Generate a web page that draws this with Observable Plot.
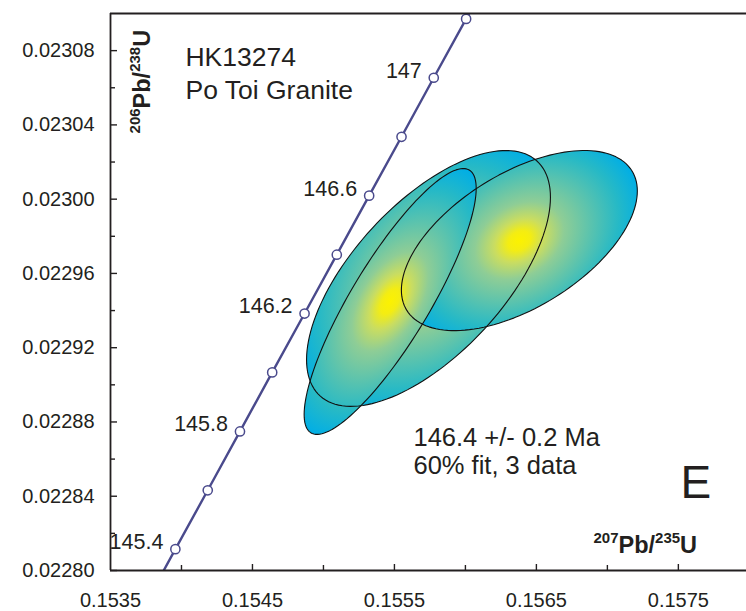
<!DOCTYPE html>
<html><head><meta charset="utf-8">
<script src="https://cdn.jsdelivr.net/npm/d3@7"></script>
<script src="https://cdn.jsdelivr.net/npm/@observablehq/plot@0.6"></script>
<style>
html,body{margin:0;padding:0;background:#fff;overflow:hidden}
#chart svg{display:block}
</style></head><body><div id="chart"></div>
<script>
// ---- Concordia (age in Ma, 207Pb/235U, 206Pb/238U) ----
const concAges = [145.2, 145.4, 145.6, 145.8, 146.0, 146.2, 146.4, 146.6, 146.8, 147.0, 147.2, 147.4];
const conc207 = [0.153730, 0.153957, 0.154185, 0.154412, 0.154639, 0.154867, 0.155094, 0.155322, 0.155550, 0.155777, 0.156005, 0.156233];
const conc206 = [0.0227797, 0.0228115, 0.0228432, 0.0228749, 0.0229067, 0.0229384, 0.0229701, 0.0230019, 0.0230336, 0.0230654, 0.0230971, 0.0231288];
const markerAges = [145.4, 145.6, 145.8, 146.0, 146.2, 146.4, 146.6, 146.8, 147.0, 147.2];
const labelAges = [145.4, 145.8, 146.2, 146.6, 147.0];
const labelText = ["145.4", "145.8", "146.2", "146.6", "147"];

// ---- Data ellipses (drawing order) ----
const ellId = ["B", "C", "A"];
const ellX = [0.15574, 0.15638, 0.15547];
const ellSX = [0.000859, 0.000831, 0.000606];
const ellY = [0.0229573, 0.0229777, 0.0229449];
const ellSY = [0.0000689, 0.0000485, 0.0000716];
const ellRho = [0.635, 0.55, 0.85];

// ---- Axes ----
const xDomain = [0.1535, 0.15798];
const yDomain = [0.0228, 0.0231];
const xTickVals = [0.1535, 0.1545, 0.1555, 0.1565, 0.1575];
const xMajorTicks = [0.1545, 0.1555, 0.1565, 0.1575];
const xMinorTicks = [0.154, 0.155, 0.156, 0.157];
const yTickVals = [0.0228, 0.02284, 0.02288, 0.02292, 0.02296, 0.023, 0.02304, 0.02308];
const yMinorTicks = [0.02282, 0.02286, 0.0229, 0.02294, 0.02298, 0.02302, 0.02306];

// ---- Annotations ----
const titleLines = ["HK13274", "Po Toi Granite"];
const titleX = [0.154028, 0.154028];
const titleY = [0.0230715, 0.0230542];
const resultLines = ["146.4 +/- 0.2 Ma", "60% fit, 3 data"];
const resultX = [0.155634, 0.155634];
const resultY = [0.0228668, 0.0228522];
const panelLetter = ["E"];
const panelX = [0.157515];
const panelY = [0.0228388];
const xLabel = ["207Pb/235U"];
const xLabelPos = [0.156902, 0.0228092];
const yLabel = ["206Pb/238U"];
const yLabelPos = [0.15378, 0.0230354];

const W = 746, H = 611, mL = 110, mR = 0, mT = 13, mB = 41;
const ink = "#231f20";
const concColor = "#4a4a8c";
const xPerPx = (xDomain[1] - xDomain[0]) / (W - mL - mR);
const yPerPx = (yDomain[1] - yDomain[0]) / (H - mT - mB);

const concordia = concAges.map((a, i) => ({age: a, x: conc207[i], y: conc206[i]}));
const markers = concordia.filter(d => markerAges.some(a => Math.abs(a - d.age) < 1e-6));
const labels = labelAges.map((a, i) => {
  const d = concordia.find(c => Math.abs(c.age - a) < 1e-6);
  return {x: d.x, y: d.y, text: labelText[i]};
});

function ellipsePts(i) {
  const pts = [];
  const r = ellRho[i], s = Math.sqrt(1 - r * r);
  for (let k = 0; k < 144; k++) {
    const t = k / 144 * 2 * Math.PI;
    pts.push({x: ellX[i] + ellSX[i] * Math.cos(t), y: ellY[i] + ellSY[i] * (r * Math.cos(t) + s * Math.sin(t))});
  }
  return pts;
}
const ellipses = ellId.map((id, i) => ellipsePts(i));

const marks = [];
ellipses.forEach((pts, i) => {
  marks.push(Plot.line(pts, {x: "x", y: "y", curve: "linear-closed", fill: `url(#grad${ellId[i]})`, stroke: "none"}));
});
ellipses.forEach((pts) => {
  marks.push(Plot.line(pts, {x: "x", y: "y", curve: "linear-closed", fill: "none", stroke: "#111", strokeWidth: 1.1}));
});
marks.push(
  Plot.line(concordia, {x: "x", y: "y", stroke: concColor, strokeWidth: 2.4, clip: true}),
  Plot.dot(markers, {x: "x", y: "y", r: 4.6, fill: "white", stroke: concColor, strokeWidth: 1.5}),
  Plot.text(labels, {x: "x", y: "y", text: "text", textAnchor: "end", dx: -12, dy: -7, fontSize: 21.5, fill: ink}),
  // frame
  Plot.ruleX([xDomain[0]], {stroke: ink, strokeWidth: 1.8}),
  Plot.ruleY([yDomain[0], yDomain[1]], {stroke: ink, strokeWidth: 1.8}),
  // inward ticks
  Plot.ruleY(yTickVals, {y: d => d, x1: () => xDomain[0], x2: () => xDomain[0] + 7 * xPerPx, stroke: ink, strokeWidth: 1.4}),
  Plot.ruleY(yMinorTicks, {y: d => d, x1: () => xDomain[0], x2: () => xDomain[0] + 5 * xPerPx, stroke: ink, strokeWidth: 1.4}),
  Plot.ruleX(xMajorTicks, {x: d => d, y1: () => yDomain[0], y2: () => yDomain[0] + 6 * yPerPx, stroke: ink, strokeWidth: 1.4}),
  Plot.ruleX(xMinorTicks, {x: d => d, y1: () => yDomain[0], y2: () => yDomain[0] + 5 * yPerPx, stroke: ink, strokeWidth: 1.4}),
  Plot.axisY({ticks: yTickVals, tickSize: 0, tickPadding: 16, tickFormat: d3.format(".5f"), fontSize: 20, fill: ink, label: null}),
  Plot.axisX({ticks: xTickVals, tickSize: 0, tickPadding: 22, tickFormat: d3.format(".4f"), fontSize: 20, fill: ink, label: null}),
  Plot.text(titleLines, {x: (d, i) => titleX[i], y: (d, i) => titleY[i], text: d => d, textAnchor: "start", lineAnchor: "bottom", fontSize: 26.5, fill: ink}),
  Plot.text(resultLines, {x: (d, i) => resultX[i], y: (d, i) => resultY[i], text: d => d, textAnchor: "start", lineAnchor: "bottom", fontSize: 25.5, fill: ink}),
  Plot.text(panelLetter, {x: (d, i) => panelX[i], y: (d, i) => panelY[i], text: d => d, textAnchor: "start", lineAnchor: "bottom", fontSize: 46, fill: ink}),
  Plot.text(xLabel, {x: () => xLabelPos[0], y: () => xLabelPos[1], text: d => d, textAnchor: "start", lineAnchor: "bottom", fill: ink, fontWeight: "bold"}),
  Plot.text(yLabel, {x: () => yLabelPos[0], y: () => yLabelPos[1], text: d => d, textAnchor: "start", lineAnchor: "bottom", rotate: -90, fill: ink, fontWeight: "bold"})
);

const plot = Plot.plot({
  width: W, height: H,
  marginLeft: mL, marginRight: mR, marginTop: mT, marginBottom: mB,
  x: {domain: xDomain},
  y: {domain: yDomain},
  style: {fontFamily: "'Liberation Sans', Arial, Helvetica, sans-serif", background: "white", color: ink},
  marks
});

// gradients aligned with each ellipse's principal axes (minor axis widened)
const svgNS = "http://www.w3.org/2000/svg";
const xs = plot.scale("x"), ys = plot.scale("y");
const defs = document.createElementNS(svgNS, "defs");
const stops = [[0, "#fcf200"], [0.09, "#f4ed12"], [0.2, "#cadd60"], [0.36, "#8ecd96"], [0.58, "#5ac3ae"], [0.8, "#26b9c6"], [1, "#00aee6"]];
ellId.forEach((id, i) => {
  const cx = xs.apply(ellX[i]), cy = ys.apply(ellY[i]);
  const sxp = xs.apply(ellX[i] + ellSX[i]) - cx;
  const syp = cy - ys.apply(ellY[i] + ellSY[i]);
  const r = ellRho[i];
  const sxx = sxp * sxp, syy = syp * syp, sxy = -r * sxp * syp;
  const m = (sxx + syy) / 2, dd = Math.sqrt(((sxx - syy) / 2) ** 2 + sxy * sxy);
  const a = Math.sqrt(m + dd), b = Math.sqrt(Math.max(m - dd, 1e-9));
  const theta = 0.5 * Math.atan2(2 * sxy, sxx - syy) * 180 / Math.PI;
  const bw = Math.pow(a, 0.55) * Math.pow(b, 0.45);
  const g = document.createElementNS(svgNS, "radialGradient");
  g.setAttribute("id", "grad" + id);
  g.setAttribute("gradientUnits", "userSpaceOnUse");
  g.setAttribute("cx", 0); g.setAttribute("cy", 0); g.setAttribute("r", 1);
  g.setAttribute("gradientTransform", `translate(${cx} ${cy}) rotate(${theta}) scale(${a} ${bw})`);
  for (const [o, c] of stops) {
    const s = document.createElementNS(svgNS, "stop");
    s.setAttribute("offset", o); s.setAttribute("stop-color", c);
    g.appendChild(s);
  }
  defs.appendChild(g);
});
plot.insertBefore(defs, plot.firstChild);

// superscripts in the axis labels
function richLabel(el, parts) {
  el.textContent = "";
  let up = false;
  for (const [s, sup] of parts) {
    const t = document.createElementNS(svgNS, "tspan");
    t.textContent = s;
    t.setAttribute("font-size", sup ? 15 : 23.5);
    if (sup && !up) { t.setAttribute("dy", -10); up = true; }
    else if (!sup && up) { t.setAttribute("dy", 10); up = false; }
    el.appendChild(t);
  }
}
plot.querySelectorAll("text").forEach(el => {
  if (el.textContent === xLabel[0]) richLabel(el, [["207", true], ["Pb/", false], ["235", true], ["U", false]]);
  if (el.textContent === yLabel[0]) richLabel(el, [["206", true], ["Pb/", false], ["238", true], ["U", false]]);
});

document.getElementById("chart").appendChild(plot);
</script></body></html>
